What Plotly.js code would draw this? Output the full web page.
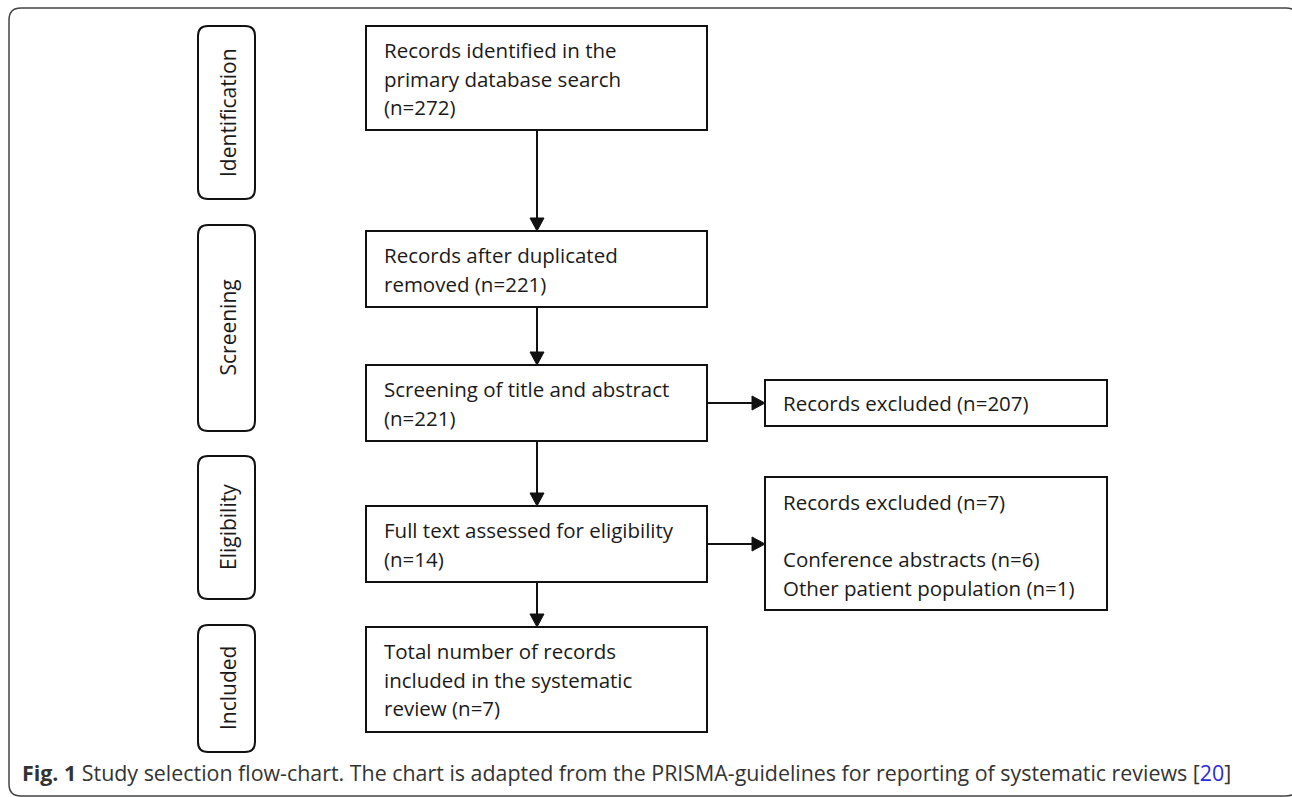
<!DOCTYPE html>
<html>
<head>
<meta charset="utf-8">
<script src="https://cdn.plot.ly/plotly-3.0.1.min.js"></script>
<style>
  html, body { margin: 0; padding: 0; background: #fff; }
  #chart { width: 1292px; height: 797px; }
</style>
</head>
<body>
<div id="chart"></div>
<script>
// ---- Data ----
const stageLabels = ["Identification", "Screening", "Eligibility", "Included"];
const stepLines = [
  ["Records identified in the", "primary database search"],
  ["Records after duplicated"],
  ["Screening of title and abstract"],
  ["Full text assessed for eligibility"],
  ["Total number of records", "included in the systematic"]
];
const stepCountLead = ["", "removed ", "", "", "review "];
const stepCounts = [272, 221, 221, 14, 7];
const excludedLabel = "Records excluded";
const excludedCounts = [207, 7];
const reasonLabels = ["Conference abstracts", "Other patient population"];
const reasonCounts = [6, 1];
const captionBold = "Fig. 1";
const captionText = "Study selection flow-chart. The chart is adapted from the PRISMA-guidelines for reporting of systematic reviews";
const captionRef = "20";

// ---- Geometry (layout only) ----
const mainX = [366, 707];
const mainBoxesY = [[26, 130], [231, 307], [365, 441], [506, 582], [627, 732]];
const exclX = [765, 1107];
const exclBoxesY = [[380, 426], [477, 610]];
const stageX = [198, 255];
const stageY = [[26, 199], [225, 431], [456, 599], [625, 752]];
const lineGap = 28.5;
const arrowX = 537;

const shapes = [];
const annotations = [];
const ink = "#111111";
const textFont = { family: "Open Sans, Noto Sans, sans-serif", size: 20.5, color: "#1a1a1a" };

function rr(x0, y0, x1, y1, r) {
  return `M${x0 + r},${y0} L${x1 - r},${y0} Q${x1},${y0} ${x1},${y0 + r} L${x1},${y1 - r} Q${x1},${y1} ${x1 - r},${y1} L${x0 + r},${y1} Q${x0},${y1} ${x0},${y1 - r} L${x0},${y0 + r} Q${x0},${y0} ${x0 + r},${y0} Z`;
}
function rect(x0, y0, x1, y1) {
  shapes.push({ type: "rect", xref: "x", yref: "y", x0, y0, x1, y1, line: { color: ink, width: 2 }, fillcolor: "rgba(0,0,0,0)" });
}
function line(x0, y0, x1, y1) {
  shapes.push({ type: "line", xref: "x", yref: "y", x0, y0, x1, y1, line: { color: ink, width: 2 } });
}
function tri(path) {
  shapes.push({ type: "path", xref: "x", yref: "y", path, fillcolor: ink, line: { color: ink, width: 1 } });
}
function arrowDown(x, y0, y1) {
  line(x, y0, x, y1 - 12);
  tri(`M${x - 7},${y1 - 13} L${x + 7},${y1 - 13} L${x},${y1} Z`);
}
function arrowRight(y, x0, x1) {
  line(x0, y, x1 - 12, y);
  tri(`M${x1 - 13},${y - 7} L${x1 - 13},${y + 7} L${x1},${y} Z`);
}
function text(x, y, t, opts) {
  annotations.push(Object.assign({
    xref: "x", yref: "y", x, y, text: t, showarrow: false,
    xanchor: "left", yanchor: "middle", align: "left", font: textFont
  }, opts || {}));
}

// Outer frame
shapes.push({ type: "path", xref: "x", yref: "y", path: rr(9, 8, 1298, 796, 12), line: { color: "#444", width: 1.5 }, fillcolor: "rgba(0,0,0,0)" });

// Stage labels
stageLabels.forEach((s, i) => {
  const [y0, y1] = stageY[i];
  shapes.push({ type: "path", xref: "x", yref: "y", path: rr(stageX[0], y0, stageX[1], y1, 10), line: { color: ink, width: 2 }, fillcolor: "rgba(0,0,0,0)" });
  text((stageX[0] + stageX[1]) / 2 + 1, (y0 + y1) / 2, s, { textangle: -90, xanchor: "center", font: Object.assign({}, textFont, { size: 21 }) });
});

// Main boxes
stepLines.forEach((lines, i) => {
  const [y0, y1] = mainBoxesY[i];
  rect(mainX[0], y0, mainX[1], y1);
  const all = lines.concat([stepCountLead[i] + "(n=" + stepCounts[i] + ")"]);
  all.forEach((t, k) => text(mainX[0] + 16, y0 + 24 + k * lineGap, t));
  if (i < stepLines.length - 1) arrowDown(arrowX, y1, mainBoxesY[i + 1][0]);
});

// Exclusion boxes
rect(exclX[0], exclBoxesY[0][0], exclX[1], exclBoxesY[0][1]);
text(exclX[0] + 16, (exclBoxesY[0][0] + exclBoxesY[0][1]) / 2, excludedLabel + " (n=" + excludedCounts[0] + ")");
rect(exclX[0], exclBoxesY[1][0], exclX[1], exclBoxesY[1][1]);
text(exclX[0] + 16, exclBoxesY[1][0] + 25, excludedLabel + " (n=" + excludedCounts[1] + ")");
reasonLabels.forEach((r, k) => text(exclX[0] + 16, exclBoxesY[1][0] + 82 + k * 29, r + " (n=" + reasonCounts[k] + ")"));

arrowRight((mainBoxesY[2][0] + mainBoxesY[2][1]) / 2, mainX[1], exclX[0]);
arrowRight((mainBoxesY[3][0] + mainBoxesY[3][1]) / 2, mainX[1], exclX[0]);

// Caption
text(20, 772, "<b>" + captionBold + "</b> " + captionText + " [<span style=\"color:#2b2bd9\">" + captionRef + "</span>]",
  { font: { family: "Open Sans, Noto Sans, sans-serif", size: 21.4, color: "#333" } });

const layout = {
  width: 1292, height: 797,
  margin: { l: 0, r: 0, t: 0, b: 0 },
  paper_bgcolor: "#fff", plot_bgcolor: "#fff",
  xaxis: { range: [0, 1292], visible: false, fixedrange: true },
  yaxis: { range: [797, 0], visible: false, fixedrange: true },
  shapes, annotations, showlegend: false
};
Plotly.newPlot("chart", [], layout, { displayModeBar: false, staticPlot: true });
</script>
</body>
</html>
